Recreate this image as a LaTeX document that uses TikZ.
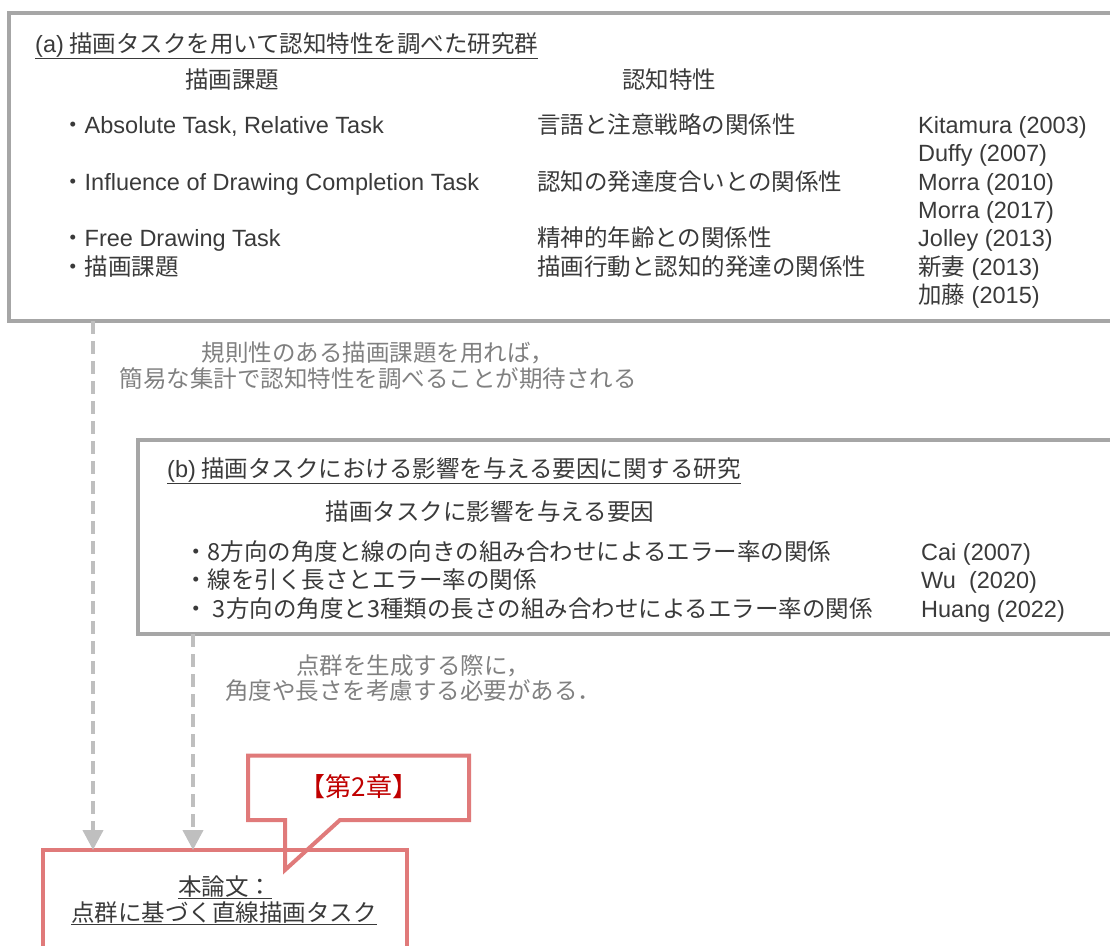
\documentclass[tikz,border=0pt]{standalone}
\usepackage{fontspec}
\setmainfont{Liberation Sans}
\newfontfamily\jp{Noto Sans CJK JP}
\usetikzlibrary{arrows.meta}
\definecolor{boxgray}{RGB}{166,166,166}
\definecolor{dashgray}{RGB}{191,191,191}
\definecolor{redline}{RGB}{224,122,122}
\definecolor{txt}{RGB}{58,58,58}
\definecolor{notegray}{RGB}{128,128,128}
\definecolor{chapred}{RGB}{192,0,0}
\newcommand{\J}[1]{{\jp #1}}
\newcommand{\fs}{\fontsize{23.5}{25.5}\selectfont}
\begin{document}
\begin{tikzpicture}[x=1pt,y=-1pt,
  panel/.style={draw=boxgray, line width=3.5pt, anchor=north west, inner sep=0pt, outer sep=0pt},
  thesisbox/.style={draw=redline, line width=4pt, anchor=north west, inner sep=0pt, outer sep=0pt},
  lbl/.style={inner sep=0pt, anchor=base west, text=txt, font=\fs},
  hdr/.style={inner sep=0pt, anchor=base, text=txt, font=\fs},
  note/.style={inner sep=0pt, align=center, text=notegray, font=\fs},
  flow/.style={draw=dashgray, line width=4pt, dash pattern=on 13pt off 7pt, -{Triangle[width=20pt,length=20pt]}},
  callout/.style={draw=redline, line width=4pt, fill=white, line join=miter}
]
\useasboundingbox (0,0) rectangle (1110,945);
\clip (0,0) rectangle (1110,945);

% panel (a)
\node[panel, minimum width=1116pt, minimum height=308pt] (boxa) at (9,13) {};
\node[lbl] (ta) at (35,52) {\underline{(a)\J{ 描画タスクを用いて認知特性を調べた研究群}}};
\node[hdr] (h1) at (232,88) {\J{描画課題}};
\node[hdr] (h2) at (669,88) {\J{認知特性}};
\node[lbl] (r1) at (61,133.5) {\J{・}Absolute Task, Relative Task};
\node[lbl] (r2) at (61,190) {\J{・}Influence of Drawing Completion Task};
\node[lbl] (r3) at (61,246.5) {\J{・}Free Drawing Task};
\node[lbl] (r4) at (61,275) {\J{・描画課題}};
\node[lbl] (m1) at (537,133.5) {\J{言語と注意戦略の関係性}};
\node[lbl] (m2) at (537,190) {\J{認知の発達度合いとの関係性}};
\node[lbl] (m3) at (537,246.5) {\J{精神的年齢との関係性}};
\node[lbl] (m4) at (537,275) {\J{描画行動と認知的発達の関係性}};
\node[lbl] (k1) at (918,133.5) {Kitamura (2003)};
\node[lbl] (k2) at (918,161.5) {Duffy (2007)};
\node[lbl] (k3) at (918,190) {Morra (2010)};
\node[lbl] (k4) at (918,218) {Morra (2017)};
\node[lbl] (k5) at (918,246.5) {Jolley (2013)};
\node[lbl] (k6) at (918,275) {\J{新妻} (2013)};
\node[lbl] (k7) at (918,303.5) {\J{加藤} (2015)};

\node[note] (n1) at (378,365.5) {\J{規則性のある描画課題を用れば，}\\\J{簡易な集計で認知特性を調べることが期待される}};

% panel (b)
\node[panel, minimum width=987pt, minimum height=194pt] (boxb) at (138,440) {};
\node[lbl] (tb) at (167,477) {\underline{(b)\J{ 描画タスクにおける影響を与える要因に関する研究}}};
\node[hdr] (hb) at (490,520) {\J{描画タスクに影響を与える要因}};
\node[lbl] (s1) at (184,560.5) {\J{・8方向の角度と線の向きの組み合わせによるエラー率の関係}};
\node[lbl] (s2) at (184,588.5) {\J{・線を引く長さとエラー率の関係}};
\node[lbl] (s3) at (184,617) {\J{・ 3方向の角度と3種類の長さの組み合わせによるエラー率の関係}};
\node[lbl] (c1) at (921,560.5) {Cai (2007)};
\node[lbl] (c2) at (921,588.5) {Wu\ \ (2020)};
\node[lbl] (c3) at (921,617) {Huang (2022)};

\node[note] (n2) at (413,678) {\J{点群を生成する際に，}\\\J{角度や長さを考慮する必要がある．}};

% thesis box and callout
\path[callout] (248,755.5) -- (469,755.5) -- (469,820) -- (340,820) -- (285,870) -- (285,820) -- (248,820) -- cycle;
\node[text=chapred, font=\fontsize{26}{28}\selectfont, inner sep=0pt] (chap) at (359,787) {\J{【第2章】}};
\node[thesisbox, minimum width=364pt, minimum height=200pt] (thesis) at (43,850) {};
\node[hdr] (t1) at (225,895) {\underline{\J{本論文：}}};
\node[hdr] (t2) at (224,921) {\underline{\J{点群に基づく直線描画タスク}}};

% connectors
\coordinate (xa) at (93,0);
\coordinate (xb) at (193,0);
\draw[flow] (boxa.south -| xa) -- (thesis.north -| xa);
\draw[flow] (boxb.south -| xb) -- (thesis.north -| xb);
\end{tikzpicture}
\end{document}
